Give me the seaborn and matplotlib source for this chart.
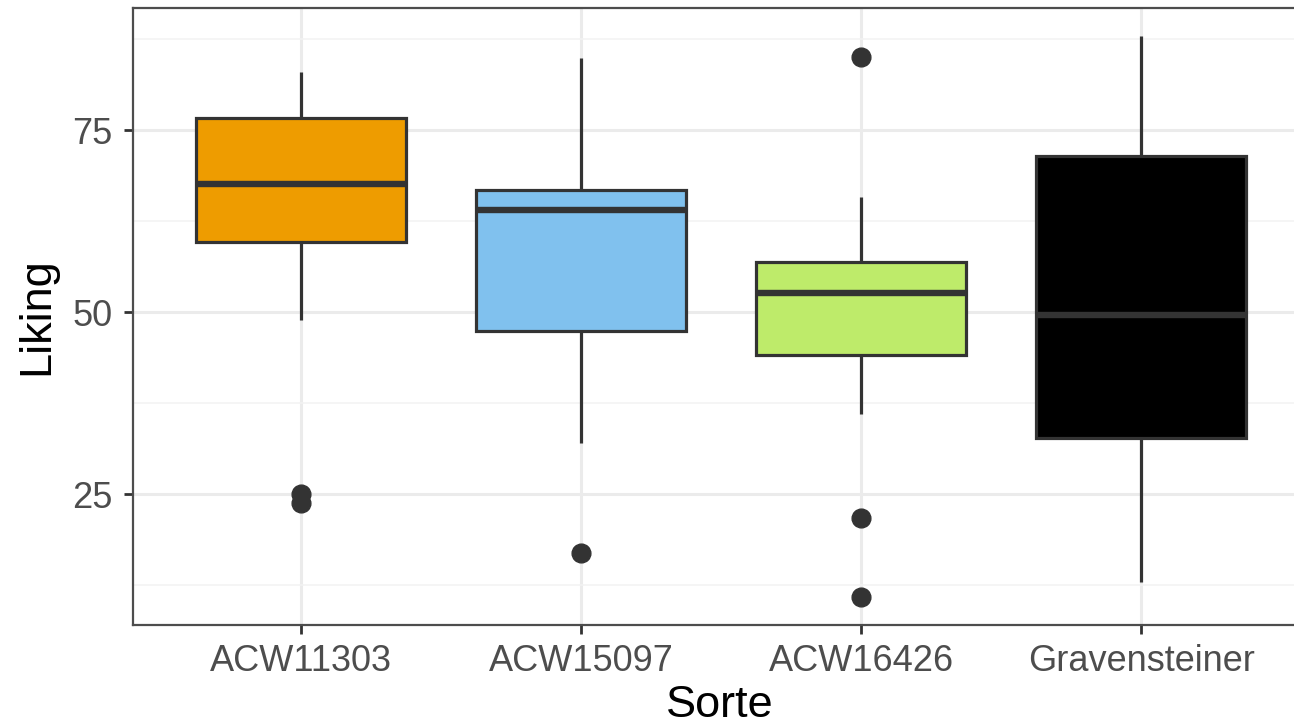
import numpy as np
import pandas as pd
import matplotlib
matplotlib.use("Agg")
import matplotlib.pyplot as plt
import seaborn as sns

sorter = ["ACW11303", "ACW15097", "ACW16426", "Gravensteiner"]
liking_acw11303 = [23.8, 25.0, 48.9, 59.6, 62.0, 65.0, 67.6, 70.0, 74.0, 76.6, 79.0, 81.0, 83.0]
liking_acw15097 = [16.9, 32.0, 40.0, 47.4, 55.0, 60.0, 64.0, 65.0, 66.0, 66.8, 75.0, 80.0, 84.9]
liking_acw16426 = [10.9, 21.8, 36.0, 44.1, 48.0, 50.0, 52.6, 54.0, 55.5, 56.9, 60.0, 65.8, 85.0]
liking_gravensteiner = [12.9, 20.0, 28.0, 32.7, 38.0, 44.0, 49.6, 56.0, 64.0, 71.4, 78.0, 83.0, 87.9]
colors = ["#EE9C00", "#80C1EE", "#BEEB6A", "#000000"]
y_ticks = [25, 50, 75]

values = [liking_acw11303, liking_acw15097, liking_acw16426, liking_gravensteiner]
df = pd.DataFrame({
    "Sorte": np.repeat(sorter, [len(v) for v in values]),
    "Liking": np.concatenate(values),
})

sns.set_theme(style="white")
plt.rcParams["font.family"] = ["Liberation Sans", "DejaVu Sans"]

fig = plt.figure(figsize=(12.94, 7.28), dpi=100)
ax_left, ax_right = 133 / 1294, 1309.3 / 1294
ax_bottom, ax_top = 1 - 625 / 728, 1 - 8 / 728
ax = fig.add_axes([ax_left, ax_bottom, ax_right - ax_left, ax_top - ax_bottom])

line_c = "#333333"
sns.boxplot(
    data=df, x="Sorte", y="Liking", hue="Sorte", order=sorter, hue_order=sorter,
    palette=dict(zip(sorter, colors)), width=0.75, linewidth=2.3, linecolor=line_c,
    showcaps=False, saturation=1, legend=False, ax=ax,
    boxprops=dict(edgecolor=line_c),
    medianprops=dict(linewidth=4.6, color=line_c),
    whiskerprops=dict(linewidth=2.3, color=line_c),
    flierprops=dict(marker="o", markerfacecolor=line_c, markeredgecolor=line_c, markersize=13.5),
    zorder=3,
)

ax.set_xlim(-0.6, 3.6)
ax.set_ylim(7.05, 91.75)
ax.set_yticks(y_ticks)
ax.set_yticks([12.5, 37.5, 62.5, 87.5], minor=True)
ax.grid(True, which="major", color="#EBEBEB", linewidth=2.2, zorder=0)
ax.grid(True, which="minor", axis="y", color="#F2F2F2", linewidth=1.1, zorder=0)
ax.set_axisbelow(True)
for s in ax.spines.values():
    s.set_color("#4D4D4D")
    s.set_linewidth(1.6)
    s.set_visible(True)

ax.tick_params(axis="both", which="major", length=6.5, width=2, color=line_c,
               labelsize=26, labelcolor="#4D4D4D", direction="out")
ax.tick_params(axis="y", pad=8)
ax.tick_params(axis="x", pad=7)
ax.tick_params(which="minor", length=0)
ax.tick_params(axis="both", which="both", bottom=True, left=True)

ax.set_xlabel("Sorte", fontsize=32.5, color="black")
ax.set_ylabel("Liking", fontsize=32.5, color="black")
ax.xaxis.set_label_coords((720 - 133) / 1176.3, -0.098)
ax.yaxis.set_label_coords(-0.0646, 0.5)

fig.savefig("out.png", dpi=100)
